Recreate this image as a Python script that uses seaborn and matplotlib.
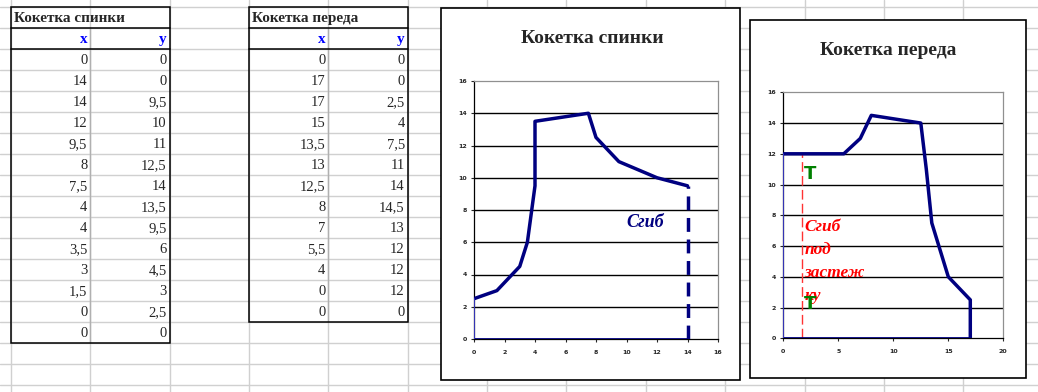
import matplotlib
matplotlib.use("Agg")
import matplotlib.pyplot as plt
import seaborn as sns
from matplotlib.patches import Rectangle

# table / chart data
back_title = "Кокетка спинки"
back_x = [0, 14, 14, 12, 9.5, 8, 7.5, 4, 4, 3.5, 3, 1.5, 0, 0]
back_y = [0, 0, 9.5, 10, 11, 12.5, 14, 13.5, 9.5, 6, 4.5, 3, 2.5, 0]

front_title = "Кокетка переда"
front_x = [0, 17, 17, 15, 13.5, 13, 12.5, 8, 7, 5.5, 4, 0, 0]
front_y = [0, 0, 2.5, 4, 7.5, 11, 14, 14.5, 13, 12, 12, 12, 0]

back_ticks_x = [0, 2, 4, 6, 8, 10, 12, 14, 16]
front_ticks_x = [0, 5, 10, 15, 20]
ticks_y = [0, 2, 4, 6, 8, 10, 12, 14, 16]

fold_label = "Сгиб"
clasp_label = "Сгиб\nпод\nзастеж\nку"
clasp_x = 1.7

sns.set_style("white")
plt.rcParams['font.family'] = ['DejaVu Sans']

NAVY = "#000080"
THIN = "#3a3ac8"
GRID = "#d0d0d0"
SERIF = "Liberation Serif"

W, H = 1038, 392
fig = plt.figure(figsize=(W / 100, H / 100), dpi=100)
bg = fig.add_axes([0, 0, 1, 1])
bg.set_xlim(0, W)
bg.set_ylim(H, 0)
bg.axis("off")

# excel sheet grid
col_w, row_h = 79.35, 21.0
for i in range(14):
    bg.axvline(11 + i * col_w, color=GRID, lw=1, zorder=0)
for i in range(-1, 19):
    bg.axhline(7 + i * row_h, color=GRID, lw=1, zorder=0)


def fmt(v):
    return f"{v:g}".replace(".", ",")


def draw_table(left, title, xs, ys):
    top = 7
    right = left + 2 * col_w
    mid = left + col_w
    n = len(xs)
    bottom = top + (n + 2) * row_h
    bg.add_patch(Rectangle((left, top), right - left, bottom - top, fill=False,
                           ec="black", lw=1.1, zorder=3))
    bg.plot([left, right], [top + row_h, top + row_h], color="black", lw=1.1, zorder=3)
    bg.plot([left, right], [top + 2 * row_h, top + 2 * row_h], color="black", lw=1.1, zorder=3)
    bg.plot([mid, mid], [top + row_h, bottom], color="#b0b0b0", lw=1, zorder=2)
    bg.text(left + 3, top + row_h / 2 + 1, title, fontsize=11, fontweight="bold",
            family=SERIF, va="center", ha="left")
    bg.text(mid - 3, top + 1.5 * row_h + 1, "x", fontsize=11, fontweight="bold",
            family=SERIF, color="blue", va="center", ha="right")
    bg.text(right - 3, top + 1.5 * row_h + 1, "y", fontsize=11, fontweight="bold",
            family=SERIF, color="blue", va="center", ha="right")
    for i, (xv, yv) in enumerate(zip(xs, ys)):
        cy = top + (i + 2.5) * row_h + 1
        bg.text(mid - 3, cy, fmt(xv), fontsize=10.5, family=SERIF, va="center", ha="right")
        bg.text(right - 3, cy, fmt(yv), fontsize=10.5, family=SERIF, va="center", ha="right")


draw_table(11, back_title, back_x, back_y)
draw_table(11 + 3 * col_w, front_title, front_x, front_y)

# chart frames
bg.add_patch(Rectangle((441, 8), 299, 372, fc="white", ec="black", lw=1.2, zorder=4))
bg.add_patch(Rectangle((750, 20), 276, 358, fc="white", ec="black", lw=1.2, zorder=4))
bg.text(592, 38, back_title, fontsize=14, fontweight="bold", family=SERIF,
        ha="center", va="center", zorder=5)
bg.text(888, 50, front_title, fontsize=14, fontweight="bold", family=SERIF,
        ha="center", va="center", zorder=5)


def setup_axes(ax, xt, xmax):
    ax.set_xlim(0, xmax)
    ax.set_ylim(0, 16)
    ax.set_xticks(xt)
    ax.set_yticks(ticks_y)
    ax.set_xticklabels([str(v) for v in xt])
    ax.set_yticklabels([str(v) for v in ticks_y])
    for v in ticks_y[1:-1]:
        ax.axhline(v, color="black", lw=1, zorder=1)
    for s in ["top", "right"]:
        ax.spines[s].set_color("#909090")
    for s in ["bottom", "left"]:
        ax.spines[s].set_color("black")
    for s in ax.spines.values():
        s.set_linewidth(0.9)
    ax.tick_params(axis="x", length=2, width=0.8, pad=6, labelsize=4.5, direction="out", bottom=True)
    ax.tick_params(axis="y", length=2, width=0.8, pad=3, labelsize=4.5, direction="out", left=True)
    for lab in ax.get_xticklabels() + ax.get_yticklabels():
        lab.set_fontweight("bold")
    ax.set_xlabel("")
    ax.set_ylabel("")


# back yoke
ax1 = fig.add_axes([474 / W, 1 - 339 / H, 244 / W, 258 / H], zorder=6)
sns.lineplot(x=back_x[0:2], y=back_y[0:2], sort=False, estimator=None, ax=ax1,
             color=NAVY, lw=2, zorder=3)
sns.lineplot(x=back_x[1:3], y=back_y[1:3], sort=False, estimator=None, ax=ax1,
             color=NAVY, lw=2.5, linestyle=(0, (4, 2.2)), zorder=3)
sns.lineplot(x=back_x[2:13], y=back_y[2:13], sort=False, estimator=None, ax=ax1,
             color=NAVY, lw=2.5, zorder=3)
sns.lineplot(x=back_x[12:14], y=back_y[12:14], sort=False, estimator=None, ax=ax1,
             color=THIN, lw=1.3, zorder=3)
ax1.text(11.2, 7.2, fold_label, fontsize=13, fontstyle="italic", fontweight="bold",
         family=SERIF, color=NAVY, ha="center", va="center", zorder=4)
setup_axes(ax1, back_ticks_x, 16)

# front yoke
ax2 = fig.add_axes([783.3 / W, 1 - 338.3 / H, 220 / W, 246 / H], zorder=6)
sns.lineplot(x=front_x[0:2], y=front_y[0:2], sort=False, estimator=None, ax=ax2,
             color=NAVY, lw=2, zorder=3)
sns.lineplot(x=front_x[1:12], y=front_y[1:12], sort=False, estimator=None, ax=ax2,
             color=NAVY, lw=2.5, zorder=3)
sns.lineplot(x=front_x[11:13], y=front_y[11:13], sort=False, estimator=None, ax=ax2,
             color=THIN, lw=1.3, zorder=3)
ax2.plot([clasp_x, clasp_x], [0, 12], color="#ff3333", lw=1, linestyle=(0, (7, 3)), zorder=2)
ax2.text(2.4, 10.7, "T", fontsize=13, fontweight="bold", color="green",
         ha="center", va="center", zorder=5)
ax2.text(2.4, 2.2, "T", fontsize=13, fontweight="bold", color="green",
         ha="center", va="center", zorder=5)
ax2.text(1.95, 5.0, clasp_label, fontsize=12.5, fontstyle="italic", fontweight="bold",
         family=SERIF, color="red", ha="left", va="center", linespacing=1.6, zorder=4)
setup_axes(ax2, front_ticks_x, 20)

fig.savefig("out.png", dpi=100)
